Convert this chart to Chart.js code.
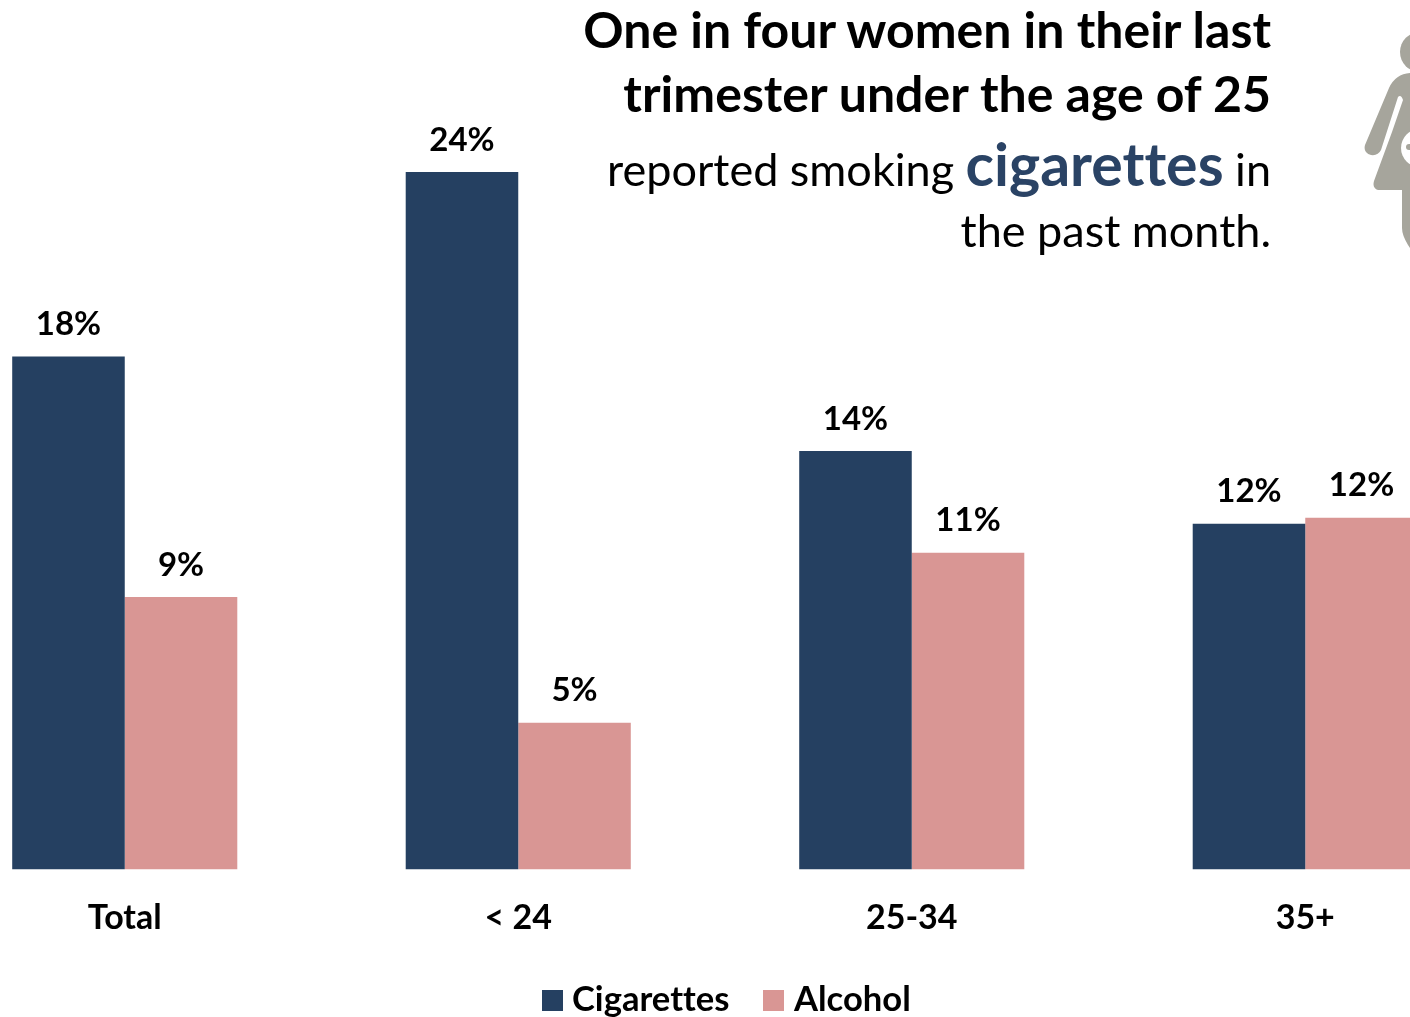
<!DOCTYPE html>
<html>
<head>
<meta charset="utf-8">
<title>Smoking and alcohol in the last trimester</title>
<script src="https://cdn.jsdelivr.net/npm/chart.js@4"></script>
<style>
html, body { margin: 0; padding: 0; background: #fff; }
#page { position: relative; width: 1410px; height: 1017px; overflow: hidden; font-family: Lato, sans-serif; color: #000; font-variant-ligatures: none; }
#salesCanvas { position: absolute; left: -72px; top: 0; }
.line { position: absolute; right: 139px; white-space: nowrap; line-height: 1; }
.bold { font-weight: 700; font-size: 50px; }
.thin { font-weight: 400; font-size: 45px; color: #000; }
.hl { font-weight: 700; font-size: 59px; color: #2A4365; }
#icon { position: absolute; left: 1340px; top: 0; }
#legend { position: absolute; top: 978px; left: 541px; height: 40px; font-weight: 700; font-size: 34.6px; }
#legend span { position: absolute; white-space: nowrap; line-height: 40px; }
#legend i { position: absolute; top: 12px; width: 21px; height: 21px; }
</style>
</head>
<body>
<div id="page">
  <canvas id="salesCanvas" width="1574" height="1017"></canvas>

  <div class="line bold" style="top:4px">One in four women in their last</div>
  <div class="line bold" style="top:68px">trimester under the age of 25</div>
  <div class="line thin" style="top:134px">reported smoking <span class="hl">cigarettes</span> in</div>
  <div class="line thin" style="top:208px">the past month.</div>

  <svg id="icon" width="70" height="270" viewBox="0 0 70 270">
    <circle cx="80" cy="52" r="20" fill="#A6A59C"/>
    <path fill="#A6A59C" d="M72 73 L70 73 L70 248 L68 245 Q62 235 62 228 L62 190 L38 190 Q32 188 34 181 L52 132 L63 100 Q61 94 58 97 L41 150 Q38 156 31 155 Q23 153 25 145 L49 88 Q56 73 72 73 Z"/>
    <circle cx="80" cy="148" r="19" fill="#fff"/>
    <circle cx="69" cy="147" r="3" fill="#A6A59C"/>
  </svg>

  <div id="legend"></div>
</div>

<script>
/* chart data */
const categories = ["Total", "< 24", "25-34", "35+"];
const cigarettes = [17.65, 24, 14.4, 11.9];
const alcohol = [9.38, 5.05, 10.9, 12.1];
const cigaretteLabels = ["18%", "24%", "14%", "12%"];
const alcoholLabels = ["9%", "5%", "11%", "12%"];
const seriesNames = ["Cigarettes", "Alcohol"];
const seriesColors = ["#254061", "#D99694"];

/* labels above the bars */
const barLabels = {
    id: "barLabels",
    afterDatasetsDraw(chart) {
        const ctx = chart.ctx;
        const texts = [cigaretteLabels, alcoholLabels];
        ctx.save();
        ctx.font = "700 33px Lato";
        ctx.fillStyle = "#000";
        ctx.textAlign = "center";
        ctx.textBaseline = "middle";
        chart.data.datasets.forEach((ds, d) => {
            chart.getDatasetMeta(d).data.forEach((bar, i) => {
                ctx.fillText(texts[d][i], bar.x, bar.y - 32);
            });
        });
        ctx.restore();
    }
};

new Chart(document.getElementById("salesCanvas"), {
    type: "bar",
    data: {
        labels: categories,
        datasets: [
            { label: seriesNames[0], data: cigarettes, backgroundColor: seriesColors[0] },
            { label: seriesNames[1], data: alcohol, backgroundColor: seriesColors[1] }
        ]
    },
    options: {
        responsive: false,
        animation: false,
        categoryPercentage: 0.572,
        barPercentage: 1,
        layout: { padding: { top: 172, left: 0, right: 0, bottom: 0 } },
        plugins: { legend: { display: false }, tooltip: { enabled: false } },
        scales: {
            y: { display: false, min: 0, max: 24 },
            x: {
                grid: { display: false },
                border: { display: false },
                ticks: {
                    color: "#000",
                    font: { family: "Lato", size: 34, weight: "700" },
                    padding: 20,
                    maxRotation: 0,
                    autoSkip: false
                },
                afterFit(scale) { scale.height = 147.5; }
            }
        }
    },
    plugins: [barLabels]
});

/* legend */
const legendEl = document.getElementById("legend");
const legendX = [[1, 31], [222, 253]];
seriesNames.forEach((name, i) => {
    const box = document.createElement("i");
    box.style.left = legendX[i][0] + "px";
    box.style.background = seriesColors[i];
    const txt = document.createElement("span");
    txt.style.left = legendX[i][1] + "px";
    txt.textContent = name;
    legendEl.appendChild(box);
    legendEl.appendChild(txt);
});
</script>
</body>
</html>
